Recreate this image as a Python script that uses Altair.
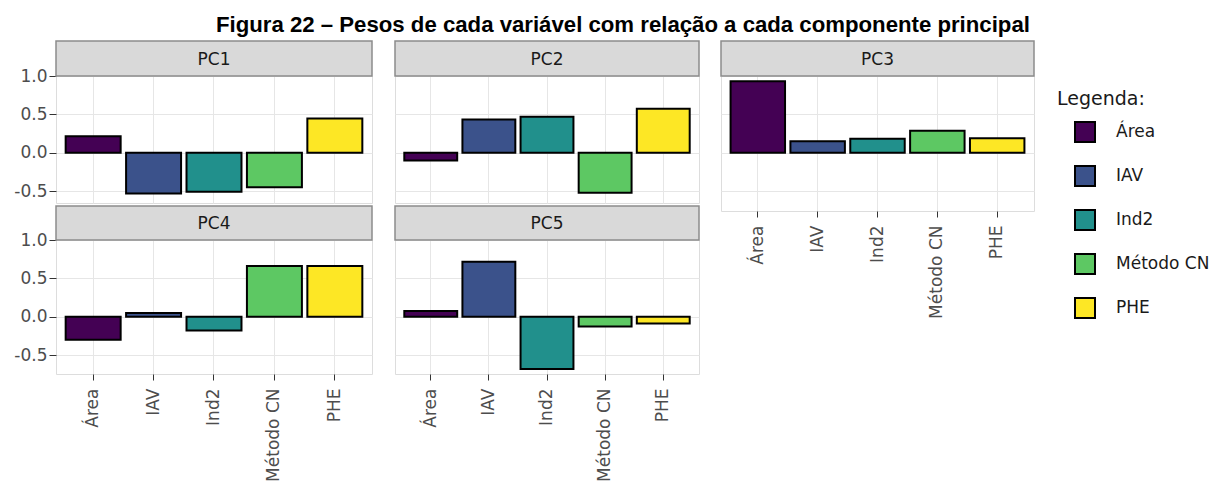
import altair as alt
import pandas as pd

categorias = ["Área", "IAV", "Ind2", "Método CN", "PHE"]
componentes = ["PC1", "PC2", "PC3", "PC4", "PC5"]
pc1 = [0.216, -0.53, -0.51, -0.45, 0.447]
pc2 = [-0.10, 0.434, 0.469, -0.52, 0.573]
pc3 = [0.93, 0.148, 0.182, 0.286, 0.19]
pc4 = [-0.30, 0.05, -0.18, 0.66, 0.66]
pc5 = [0.074, 0.717, -0.68, -0.126, -0.087]
cores = ["#440154", "#3B528B", "#21908C", "#5DC863", "#FDE725"]
y_ticks = [-0.5, 0.0, 0.5, 1.0]

FONT = "DejaVu Sans"
BORDER = "#8c8c8c"
GRID = "#e6e6e6"
TICKFS = 17

legenda = alt.Legend(
    title="Legenda:", orient="none", legendX=1001, legendY=14,
    titleFont=FONT, titleFontSize=19, titleFontWeight="normal",
    titleColor="#1a1a1a", labelFont=FONT, labelFontSize=17,
    labelColor="#1a1a1a", symbolType="square", symbolSize=400,
    symbolStrokeColor="black", symbolStrokeWidth=2, symbolOpacity=1,
    symbolOffset=17, labelOffset=20, rowPadding=16, titlePadding=12, padding=0,
)


def painel(nome, valores, width, height, ydom, show_y, show_x, strip_h):
    df = pd.DataFrame({"variavel": categorias, "peso": valores})
    if show_x:
        xaxis = alt.Axis(
            title=None, labelAngle=270, domain=False,
            grid=True, gridColor=GRID, labelFontSize=TICKFS, labelColor="#4d4d4d",
            labelFont=FONT, tickColor="#333333", tickSize=6, labelPadding=8,
        )
    else:
        xaxis = alt.Axis(
            title=None, labels=False, ticks=False, domain=False, grid=True,
            gridColor=GRID, tickSize=0, labelPadding=0, minExtent=0, maxExtent=0,
        )
    yaxis = alt.Axis(
        title=None, values=y_ticks, labels=show_y, ticks=show_y,
        labelExpr="(datum.value < 0 ? '-' : '') + format(abs(datum.value), '.1f')",
        domain=False, grid=True, gridColor=GRID, labelFontSize=TICKFS,
        labelColor="#4d4d4d", labelFont=FONT, tickColor="#333333", tickSize=7,
        labelPadding=2,
    )
    bars = alt.Chart(df).mark_bar(stroke="black", strokeWidth=2).encode(
        x=alt.X("variavel:N", sort=categorias,
                scale=alt.Scale(paddingInner=0.09, paddingOuter=0.16), axis=xaxis),
        y=alt.Y("peso:Q", scale=alt.Scale(domain=ydom, nice=False), axis=yaxis),
        y2=alt.datum(0),
        color=alt.Color("variavel:N", sort=categorias,
                        scale=alt.Scale(domain=categorias, range=cores),
                        legend=legenda),
    )

    sdf = pd.DataFrame({"painel": [nome]})
    rect = alt.Chart(sdf).mark_rect(fill="#d9d9d9", stroke=BORDER, strokeWidth=1.5).encode(
        x=alt.value(0), x2=alt.value(width), y=alt.value(-strip_h), y2=alt.value(0)
    )
    txt = alt.Chart(sdf).mark_text(font=FONT, fontSize=17, color="#1a1a1a").encode(
        text="painel:N", x=alt.value(width / 2), y=alt.value(-strip_h / 2 + 1)
    )
    return alt.layer(bars, rect, txt).properties(width=width, height=height)


top_dom = [-0.655, 1.0]
bot_dom = [-0.745, 1.0]
p1 = painel("PC1", pc1, 316, 127, top_dom, True, False, 35)
p2 = painel("PC2", pc2, 304, 127, top_dom, False, False, 35)
p4 = painel("PC4", pc4, 316, 134, bot_dom, True, True, 34)
p5 = painel("PC5", pc5, 304, 134, bot_dom, False, True, 34)
p3 = painel("PC3", pc3, 313, 135, [-0.76, 1.0], False, True, 35)

row1 = alt.hconcat(p1, p2, spacing=19)
row2 = alt.hconcat(p4, p5, spacing=19)
left = alt.vconcat(row1, row2, spacing=0)

chart = alt.hconcat(left, p3, spacing=18).properties(
    title=alt.Title(
        "Figura 22 – Pesos de cada variável com relação a cada componente principal",
        font="Liberation Sans", fontSize=22.2, fontWeight="bold", color="black",
        anchor="start", frame="group", offset=4, dx=160,
    )
).configure_view(
    stroke=BORDER, strokeWidth=1.5
).configure(background="white")

chart.save("out.html", embed_options={"renderer": "svg", "actions": False})
